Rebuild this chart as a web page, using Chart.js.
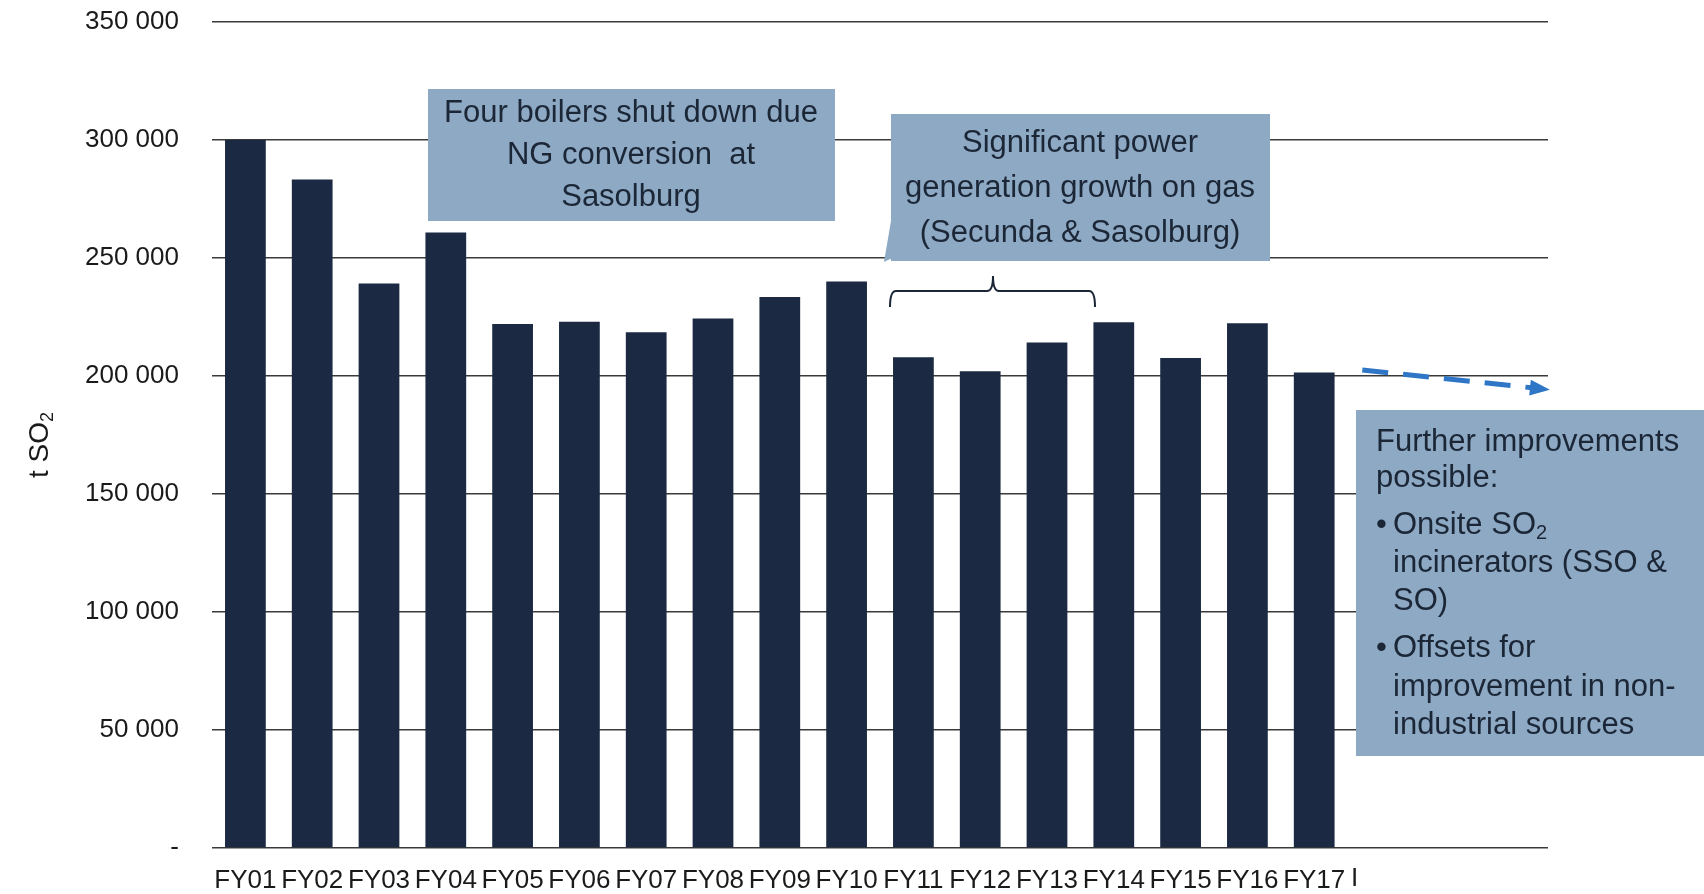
<!DOCTYPE html>
<html>
<head>
<meta charset="utf-8">
<script src="https://cdn.jsdelivr.net/npm/chart.js@4.4.1/dist/chart.umd.min.js"></script>
<style>
  html, body { margin: 0; padding: 0; background: #fff; }
</style>
</head>
<body>
<canvas id="so2Chart" width="1704" height="894"></canvas>
<script>
// categories (last three years have no bar, labels hidden in the original)
const years = ["FY01", "FY02", "FY03", "FY04", "FY05", "FY06", "FY07", "FY08", "FY09", "FY10",
               "FY11", "FY12", "FY13", "FY14", "FY15", "FY16", "FY17", "FY18", "FY19", "FY20"];
const shownYears = 17;

// t SO2 per year
const so2Tonnes = [300000, 283300, 239200, 260800, 222000, 223000, 218500, 224400, 233500, 240000,
                   207900, 202000, 214200, 222800, 207600, 222300, 201500];

// y axis ticks
const yTicks = [0, 50000, 100000, 150000, 200000, 250000, 300000, 350000];

const FONT = "'Liberation Sans', Arial, sans-serif";
const TEXT_DARK = "#1b2636";
const BOX_FILL = "#8ea9c4";

function fmtThousands(v) {
  if (v === 0) return "-";
  return String(v).replace(/\B(?=(\d{3})+(?!\d))/g, " ");
}

function drawBox(ctx, x0, y0, x1, y1) {
  ctx.fillStyle = BOX_FILL;
  ctx.fillRect(x0, y0, x1 - x0, y1 - y0);
}

// text with a subscript "2" after the main part
function subText(ctx, main, sub, x, y, size) {
  ctx.font = size + "px " + FONT;
  ctx.fillText(main, x, y);
  const w = ctx.measureText(main).width;
  ctx.font = Math.round(size * 0.65) + "px " + FONT;
  ctx.fillText(sub, x + w, y + size * 0.28);
  ctx.font = size + "px " + FONT;
}

const notesPlugin = {
  id: "so2Notes",
  afterDraw(chart) {
    const ctx = chart.ctx;
    const xs = chart.scales.x;
    const ys = chart.scales.y;
    const catW = (xs.right - xs.left) / years.length;
    const posX = p => xs.left + (p + 0.5) * catW;

    ctx.save();

    // y axis title "t SO2"
    ctx.save();
    ctx.translate(40, 444);
    ctx.rotate(-Math.PI / 2);
    ctx.fillStyle = "#1a1a1a";
    ctx.textBaseline = "middle";
    ctx.font = "28px " + FONT;
    const tw = ctx.measureText("t SO").width + 12;
    ctx.textAlign = "left";
    subText(ctx, "t SO", "2", -tw / 2, 0, 28);
    ctx.restore();

    // stray fragment of the hidden FY18 label
    ctx.fillStyle = "#1a1a1a";
    ctx.font = "26px " + FONT;
    ctx.textAlign = "left";
    ctx.textBaseline = "middle";
    ctx.fillText("I", posX(17) - 30, 879);

    // box 1
    drawBox(ctx, 428, 89, 835, 221);
    ctx.fillStyle = TEXT_DARK;
    ctx.font = "31px " + FONT;
    ctx.textAlign = "center";
    ctx.fillText("Four boilers shut down due", 631, 113);
    ctx.fillText("NG conversion  at", 631, 155);
    ctx.fillText("Sasolburg", 631, 197);

    // box 2 with small callout tail
    ctx.fillStyle = BOX_FILL;
    ctx.beginPath();
    ctx.moveTo(892, 215);
    ctx.lineTo(892, 258);
    ctx.lineTo(884, 262);
    ctx.closePath();
    ctx.fill();
    drawBox(ctx, 891, 114, 1270, 261);
    ctx.fillStyle = TEXT_DARK;
    ctx.fillText("Significant power", 1080, 143);
    ctx.fillText("generation growth on gas", 1080, 188);
    ctx.fillText("(Secunda & Sasolburg)", 1080, 233);

    // bracket over FY11-FY13
    ctx.strokeStyle = TEXT_DARK;
    ctx.lineWidth = 2;
    ctx.beginPath();
    ctx.moveTo(890, 307);
    ctx.quadraticCurveTo(890, 291, 896, 291);
    ctx.lineTo(987, 291);
    ctx.quadraticCurveTo(993, 291, 993, 276);
    ctx.quadraticCurveTo(993, 291, 999, 291);
    ctx.lineTo(1089, 291);
    ctx.quadraticCurveTo(1095, 291, 1095, 307);
    ctx.stroke();

    // dashed trend arrow
    const ax0 = posX(16.72), ay0 = ys.getPixelForValue(202500);
    const ax1 = xs.right - 16, ay1 = ys.getPixelForValue(195000);
    ctx.strokeStyle = "#2f77c6";
    ctx.fillStyle = "#2f77c6";
    ctx.lineWidth = 5;
    ctx.setLineDash([26, 15]);
    ctx.beginPath();
    ctx.moveTo(ax0, ay0);
    ctx.lineTo(ax1, ay1);
    ctx.stroke();
    ctx.setLineDash([]);
    const ang = Math.atan2(ay1 - ay0, ax1 - ax0);
    ctx.save();
    ctx.translate(ax1, ay1);
    ctx.rotate(ang);
    ctx.beginPath();
    ctx.moveTo(18, 0);
    ctx.lineTo(-2, -8);
    ctx.lineTo(-2, 8);
    ctx.closePath();
    ctx.fill();
    ctx.restore();

    // box 3
    drawBox(ctx, 1356, 410, 1704, 756);
    ctx.fillStyle = TEXT_DARK;
    ctx.textAlign = "left";
    ctx.font = "31px " + FONT;
    ctx.fillText("Further improvements", 1376, 442);
    ctx.fillText("possible:", 1376, 478);
    ctx.fillText("\u2022", 1376, 525);
    subText(ctx, "Onsite SO", "2", 1393, 525, 31);
    ctx.fillText("incinerators (SSO &", 1393, 563);
    ctx.fillText("SO)", 1393, 601);
    ctx.fillText("\u2022", 1376, 648);
    ctx.fillText("Offsets for", 1393, 648);
    ctx.fillText("improvement in non-", 1393, 687);
    ctx.fillText("industrial sources", 1393, 725);

    ctx.restore();
  }
};

new Chart(document.getElementById("so2Chart").getContext("2d"), {
  type: "bar",
  data: {
    labels: years,
    datasets: [{
      label: "t SO2",
      data: so2Tonnes,
      backgroundColor: "#1b2a42",
      borderWidth: 0,
      barPercentage: 0.61,
      categoryPercentage: 1.0
    }]
  },
  options: {
    responsive: false,
    animation: false,
    layout: { padding: { left: 0, right: 156, top: 22, bottom: 0 } },
    plugins: {
      legend: { display: false },
      tooltip: { enabled: false }
    },
    scales: {
      x: {
        grid: { display: false, drawTicks: false },
        border: { display: false },
        ticks: {
          autoSkip: false,
          maxRotation: 0,
          padding: 17,
          color: "#1a1a1a",
          font: { family: FONT, size: 26 },
          callback: (v, i) => (i < shownYears ? years[i] : "")
        },
        afterFit: s => { s.height = 46; }
      },
      y: {
        min: 0,
        max: 350000,
        afterBuildTicks: s => { s.ticks = yTicks.map(v => ({ value: v })); },
        // tick padding also pads the plot top, so the label gap comes from an invisible tick
        grid: { color: "#3a3a3a", lineWidth: 1.5, drawTicks: true, tickLength: 33, tickColor: "rgba(0,0,0,0)" },
        border: { display: false },
        ticks: {
          padding: 0,
          color: "#1a1a1a",
          font: { family: FONT, size: 26 },
          callback: v => fmtThousands(v)
        },
        afterFit: s => { s.width = 212; }
      }
    }
  },
  plugins: [notesPlugin]
});
</script>
</body>
</html>
